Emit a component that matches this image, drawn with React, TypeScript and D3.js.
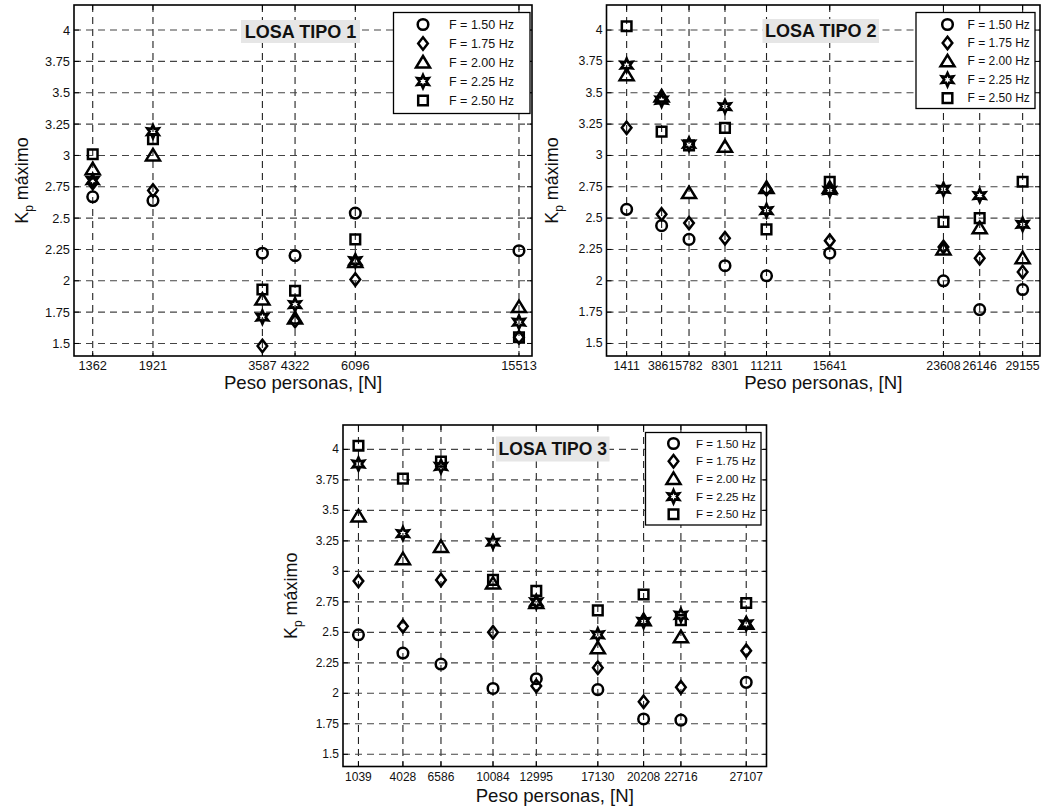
import * as d3 from 'd3'
import { useEffect, useRef } from 'react'

const FONT = "'Liberation Sans', Arial, Helvetica, sans-serif"

const FREQ_LABELS = ['F = 1.50 Hz', 'F = 1.75 Hz', 'F = 2.00 Hz', 'F = 2.25 Hz', 'F = 2.50 Hz']
const MARKERS = ['circle', 'diamond', 'triangle', 'hexagram', 'square']
const Y_TICKS = [1.5, 1.75, 2, 2.25, 2.5, 2.75, 3, 3.25, 3.5, 3.75, 4]

// Losa tipo 1
const peso1 = [1362, 1921, 3587, 4322, 6096, 15513]
const kp1_150 = [2.67, 2.64, 2.22, 2.20, 2.54, 2.24]
const kp1_175 = [2.78, 2.72, 1.48, 1.68, 2.01, 1.55]
const kp1_200 = [2.89, 3.00, 1.85, 1.70, 2.15, 1.79]
const kp1_225 = [2.80, 3.19, 1.71, 1.81, 2.16, 1.67]
const kp1_250 = [3.01, 3.13, 1.93, 1.92, 2.33, 1.55]

// Losa tipo 2
const peso2 = [1411, 3861, 5782, 8301, 11211, 15641, 23608, 26146, 29155]
const kp2_150 = [2.57, 2.44, 2.33, 2.12, 2.04, 2.22, 2.00, 1.77, 1.93]
const kp2_175 = [3.22, 2.53, 2.46, 2.34, 2.73, 2.32, 2.27, 2.18, 2.07]
const kp2_200 = [3.64, 3.47, 2.70, 3.07, 2.74, 2.74, 2.25, 2.42, 2.18]
const kp2_225 = [3.72, 3.44, 3.09, 3.39, 2.56, 2.72, 2.73, 2.68, 2.45]
const kp2_250 = [4.03, 3.19, 3.08, 3.22, 2.41, 2.79, 2.47, 2.50, 2.79]

// Losa tipo 3
const peso3 = [1039, 4028, 6586, 10084, 12995, 17130, 20208, 22716, 27107]
const kp3_150 = [2.48, 2.33, 2.24, 2.04, 2.12, 2.03, 1.79, 1.78, 2.09]
const kp3_175 = [2.92, 2.55, 2.93, 2.50, 2.06, 2.21, 1.93, 2.05, 2.35]
const kp3_200 = [3.45, 3.10, 3.20, 2.90, 2.74, 2.37, 2.60, 2.46, 2.57]
const kp3_225 = [3.88, 3.31, 3.86, 3.24, 2.75, 2.48, 2.59, 2.64, 2.57]
const kp3_250 = [4.03, 3.76, 3.90, 2.93, 2.84, 2.68, 2.81, 2.60, 2.74]

interface Panel {
  title: string
  peso: number[]
  series: number[][]
  log: boolean
  xDomain: [number, number]
  left: number
  right: number
  top: number
  bottom: number
  titleBox: [number, number, number, number] // x0, y0, x1, y1
  titleSize: number
  legend: { x0: number; y0: number; x1: number; y1: number; rowY0: number; rowStep: number; mx: number; tx: number; fs: number }
  tickFs: number
  tickDy: number
  yLabelX: number
  xLabelDy: number
}

const panels: Panel[] = [
  {
    title: 'LOSA TIPO 1',
    peso: peso1,
    series: [kp1_150, kp1_175, kp1_200, kp1_225, kp1_250],
    log: true,
    xDomain: [1224, 16710],
    left: 74, right: 532, top: 5, bottom: 356,
    titleBox: [241, 20, 360, 43],
    titleSize: 18,
    legend: { x0: 393.5, y0: 12.5, x1: 530, y1: 113.5, rowY0: 24.5, rowStep: 19, mx: 423, tx: 449, fs: 12.5 },
    tickFs: 12.8,
    tickDy: 13.5,
    yLabelX: 28,
    xLabelDy: 33,
  },
  {
    title: 'LOSA TIPO 2',
    peso: peso2,
    series: [kp2_150, kp2_175, kp2_200, kp2_225, kp2_250],
    log: false,
    xDomain: [0, 30372],
    left: 606.5, right: 1040, top: 5, bottom: 356,
    titleBox: [762.5, 19, 879, 43],
    titleSize: 18,
    legend: { x0: 916, y0: 12.5, x1: 1035, y1: 108.5, rowY0: 24.5, rowStep: 18.4, mx: 947.5, tx: 967.5, fs: 12 },
    tickFs: 12.3,
    tickDy: 13.5,
    yLabelX: 558,
    xLabelDy: 33,
  },
  {
    title: 'LOSA TIPO 3',
    peso: peso3,
    series: [kp3_150, kp3_175, kp3_200, kp3_225, kp3_250],
    log: false,
    xDomain: [0, 28470],
    left: 343, right: 766.5, top: 425, bottom: 766.5,
    titleBox: [496, 436.5, 609.5, 461.5],
    titleSize: 17.5,
    legend: { x0: 645.5, y0: 432.5, x1: 761, y1: 525, rowY0: 443.5, rowStep: 17.7, mx: 673.5, tx: 696, fs: 11.5 },
    tickFs: 12,
    tickDy: 14.5,
    yLabelX: 297,
    xLabelDy: 35,
  },
]

function markerPath(kind: string): string {
  switch (kind) {
    case 'circle': {
      const p = d3.path()
      p.arc(0, 0, 5.3, 0, Math.PI * 2)
      p.closePath()
      return p.toString()
    }
    case 'diamond':
      return 'M0,-6.2L4.8,0L0,6.2L-4.8,0Z'
    case 'triangle':
      return 'M0,-6.5L7,5L-7,5Z'
    case 'square':
      return 'M-4.8,-4.8H4.8V4.8H-4.8Z'
    default: {
      // hexagram (6-point star)
      const pts: [number, number][] = []
      for (let i = 0; i < 12; i++) {
        const a = -Math.PI / 2 + (i * Math.PI) / 6
        const r = i % 2 === 0 ? 6.6 : 3.3
        pts.push([r * Math.cos(a), r * Math.sin(a)])
      }
      return 'M' + pts.map(p => p.map(v => v.toFixed(2)).join(',')).join('L') + 'Z'
    }
  }
}

const markerStroke = (kind: string) => (kind === 'hexagram' ? 2.6 : 2.5)

function drawPanel(svg: d3.Selection<SVGSVGElement, unknown, null, undefined>, pn: Panel) {
  const x = pn.log
    ? d3.scaleLog().domain(pn.xDomain).range([pn.left, pn.right])
    : d3.scaleLinear().domain(pn.xDomain).range([pn.left, pn.right])
  const y = d3.scaleLinear().domain([1.4, 4.2]).range([pn.bottom, pn.top])

  const g = svg.append('g')

  // white plot background
  g.append('rect')
    .attr('x', pn.left).attr('y', pn.top)
    .attr('width', pn.right - pn.left).attr('height', pn.bottom - pn.top)
    .attr('fill', 'white')

  // grid
  g.selectAll('.vgrid').data(pn.peso).enter().append('line')
    .attr('x1', d => x(d)).attr('x2', d => x(d))
    .attr('y1', pn.top).attr('y2', pn.bottom)
    .attr('stroke', '#222').attr('stroke-width', 1.1)
    .attr('stroke-dasharray', '7,5')
  g.selectAll('.hgrid').data(Y_TICKS).enter().append('line')
    .attr('y1', d => y(d)).attr('y2', d => y(d))
    .attr('x1', pn.left).attr('x2', pn.right)
    .attr('stroke', '#444').attr('stroke-width', 1.1)
    .attr('stroke-dasharray', '7,5')

  // ticks inside on all sides
  const TL = 5
  g.selectAll('.yt').data(Y_TICKS).enter().append('path')
    .attr('d', d => `M${pn.left},${y(d)}h${TL}M${pn.right},${y(d)}h${-TL}`)
    .attr('stroke', 'black').attr('stroke-width', 1)
  g.selectAll('.xt').data(pn.peso).enter().append('path')
    .attr('d', d => `M${x(d)},${pn.bottom}v${-TL}M${x(d)},${pn.top}v${TL}`)
    .attr('stroke', 'black').attr('stroke-width', 1)

  // markers
  pn.series.forEach((vals, si) => {
    g.selectAll(`.m${si}`).data(vals).enter().append('path')
      .attr('transform', (d, i) => `translate(${x(pn.peso[i])},${y(d)})`)
      .attr('d', markerPath(MARKERS[si]))
      .attr('fill', 'none')
      .attr('stroke', 'black')
      .attr('stroke-width', markerStroke(MARKERS[si]))
  })

  // title box
  const [tx0, ty0, tx1, ty1] = pn.titleBox
  g.append('rect')
    .attr('x', tx0).attr('y', ty0).attr('width', tx1 - tx0).attr('height', ty1 - ty0)
    .attr('fill', '#e6e6e6')
  g.append('text')
    .attr('x', (tx0 + tx1) / 2).attr('y', (ty0 + ty1) / 2)
    .attr('text-anchor', 'middle').attr('dominant-baseline', 'central')
    .attr('font-family', FONT).attr('font-weight', 'bold').attr('font-size', pn.titleSize)
    .attr('fill', '#111')
    .text(pn.title)

  // legend
  const L = pn.legend
  g.append('rect')
    .attr('x', L.x0).attr('y', L.y0).attr('width', L.x1 - L.x0).attr('height', L.y1 - L.y0)
    .attr('fill', 'white').attr('stroke', 'black').attr('stroke-width', 1.3)
  FREQ_LABELS.forEach((lab, i) => {
    const ry = L.rowY0 + i * L.rowStep
    g.append('path')
      .attr('transform', `translate(${L.mx},${ry})`)
      .attr('d', markerPath(MARKERS[i]))
      .attr('fill', 'none').attr('stroke', 'black')
      .attr('stroke-width', markerStroke(MARKERS[i]))
    g.append('text')
      .attr('x', L.tx).attr('y', ry)
      .attr('dominant-baseline', 'central')
      .attr('font-family', FONT).attr('font-size', L.fs).attr('fill', '#111')
      .text(lab)
  })

  // axes box
  g.append('rect')
    .attr('x', pn.left).attr('y', pn.top)
    .attr('width', pn.right - pn.left).attr('height', pn.bottom - pn.top)
    .attr('fill', 'none').attr('stroke', 'black').attr('stroke-width', 1.6)

  // tick labels
  g.selectAll('.yl').data(Y_TICKS).enter().append('text')
    .attr('x', pn.left - 4).attr('y', d => y(d))
    .attr('text-anchor', 'end').attr('dominant-baseline', 'central')
    .attr('font-family', FONT).attr('font-size', pn.tickFs).attr('fill', '#111')
    .text(d => String(d))
  g.selectAll('.xl').data(pn.peso).enter().append('text')
    .attr('x', d => x(d)).attr('y', pn.bottom + pn.tickDy)
    .attr('text-anchor', 'middle')
    .attr('font-family', FONT).attr('font-size', pn.tickFs).attr('fill', '#111')
    .text(d => String(d))

  // axis titles
  g.append('text')
    .attr('x', (pn.left + pn.right) / 2).attr('y', pn.bottom + pn.xLabelDy)
    .attr('text-anchor', 'middle')
    .attr('font-family', FONT).attr('font-size', 18.6).attr('fill', '#111')
    .text('Peso personas, [N]')

  const yl = g.append('text')
    .attr('transform', `translate(${pn.yLabelX},${(pn.top + pn.bottom) / 2}) rotate(-90)`)
    .attr('text-anchor', 'middle')
    .attr('font-family', FONT).attr('font-size', 18).attr('fill', '#111')
  yl.append('tspan').text('K')
  yl.append('tspan').attr('font-size', 12).attr('dy', 5).text('p')
  yl.append('tspan').attr('dy', -5).text(' máximo')
}

export default function App() {
  const svgRef = useRef<SVGSVGElement>(null)

  useEffect(() => {
    if (!svgRef.current) return
    const svg = d3.select(svgRef.current)
    svg.selectAll('*').remove()
    panels.forEach(p => drawPanel(svg, p))
  }, [])

  return (
    <svg
      ref={svgRef}
      width={1042}
      height={810}
      style={{ position: 'absolute', left: 0, top: 0, background: 'white' }}
    />
  )
}
